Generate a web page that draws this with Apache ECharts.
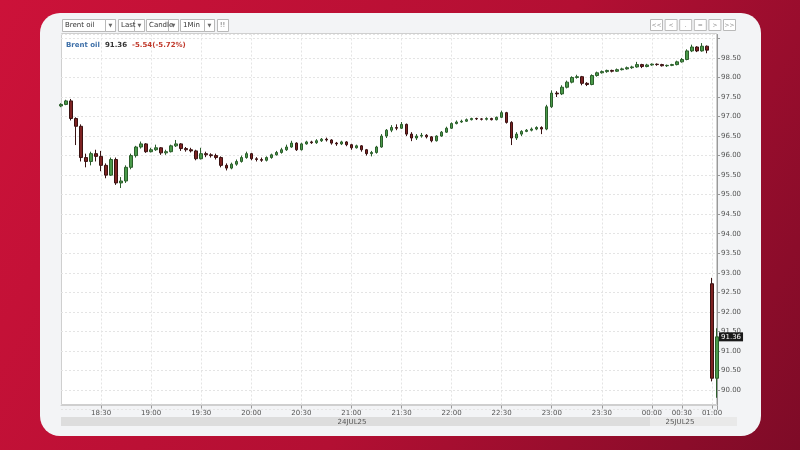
<!DOCTYPE html>
<html>
<head>
<meta charset="utf-8">
<script src="https://cdn.jsdelivr.net/npm/echarts@6.0.0/dist/echarts.min.js"></script>
<style>
  html, body { margin: 0; padding: 0; }
  #chart { width: 800px; height: 450px; }
</style>
</head>
<body>
<div id="chart"></div>
<script>
// quote header
var symbolName = 'Brent oil';
var lastPrice = 91.36;
var change = '-5.54';
var changePct = '-5.72%';

// time categories: 3 min candles until midnight, thinner after it
function hhmm(m) {
    var h = Math.floor(m / 60) % 24, mm = m % 60;
    return (h < 10 ? '0' : '') + h + ':' + (mm < 10 ? '0' : '') + mm;
}
var times = [];
for (var m = 18 * 60 + 6; m <= 24 * 60; m += 3) times.push(hhmm(m));
for (var m2 = 5; m2 <= 60; m2 += 5) times.push(hhmm(m2));
times.push('01:01');

var dateLabels = ['24JUL25', '25JUL25'];

// [open, close, low, high]
var candles = [
    [97.27, 97.31, 97.24, 97.34], [97.31, 97.40, 97.29, 97.43], [97.40, 96.95, 96.90, 97.45], [96.95, 96.75, 96.27, 96.98],
    [96.75, 95.95, 95.85, 96.80], [95.95, 95.85, 95.70, 96.05], [95.85, 96.05, 95.75, 96.10], [96.05, 95.98, 95.85, 96.15],
    [95.98, 95.75, 95.60, 96.12], [95.75, 95.50, 95.42, 95.80], [95.50, 95.90, 95.48, 95.95], [95.90, 95.30, 95.25, 95.95],
    [95.30, 95.35, 95.17, 95.45], [95.35, 95.70, 95.30, 95.75], [95.70, 96.00, 95.65, 96.05], [96.00, 96.22, 95.95, 96.25],
    [96.22, 96.30, 96.18, 96.36], [96.30, 96.10, 96.07, 96.32], [96.10, 96.15, 96.08, 96.20], [96.15, 96.20, 96.12, 96.28],
    [96.20, 96.07, 96.02, 96.22], [96.07, 96.10, 96.02, 96.15], [96.10, 96.25, 96.08, 96.28], [96.25, 96.30, 96.22, 96.40],
    [96.30, 96.18, 96.12, 96.32], [96.18, 96.15, 96.10, 96.22], [96.15, 96.12, 96.08, 96.20], [96.12, 95.92, 95.88, 96.15],
    [95.92, 96.05, 95.90, 96.20], [96.05, 96.02, 95.96, 96.10], [96.02, 96.00, 95.95, 96.06], [96.00, 95.95, 95.90, 96.05],
    [95.95, 95.75, 95.70, 95.98], [95.75, 95.68, 95.62, 95.80], [95.68, 95.78, 95.65, 95.82], [95.78, 95.85, 95.74, 95.90],
    [95.85, 95.95, 95.82, 96.00], [95.95, 96.05, 95.92, 96.10], [96.05, 95.92, 95.88, 96.07], [95.92, 95.90, 95.85, 95.96],
    [95.90, 95.88, 95.84, 95.95], [95.88, 95.95, 95.85, 95.98], [95.95, 96.02, 95.92, 96.05], [96.02, 96.08, 96.00, 96.12],
    [96.08, 96.15, 96.05, 96.20], [96.15, 96.22, 96.12, 96.28], [96.22, 96.32, 96.20, 96.38], [96.32, 96.15, 96.12, 96.34],
    [96.15, 96.30, 96.13, 96.33], [96.30, 96.35, 96.28, 96.38], [96.35, 96.33, 96.30, 96.38], [96.33, 96.38, 96.30, 96.42],
    [96.38, 96.42, 96.35, 96.45], [96.42, 96.40, 96.36, 96.46], [96.40, 96.32, 96.28, 96.42], [96.32, 96.30, 96.25, 96.35],
    [96.30, 96.35, 96.27, 96.38], [96.35, 96.28, 96.24, 96.37], [96.28, 96.20, 96.15, 96.30], [96.20, 96.25, 96.18, 96.28],
    [96.25, 96.15, 96.10, 96.27], [96.15, 96.05, 96.00, 96.17], [96.05, 96.08, 95.98, 96.12], [96.08, 96.22, 96.05, 96.25],
    [96.22, 96.50, 96.20, 96.55], [96.50, 96.65, 96.45, 96.68], [96.65, 96.72, 96.60, 96.78], [96.72, 96.70, 96.65, 96.80],
    [96.70, 96.80, 96.68, 96.86], [96.80, 96.55, 96.50, 96.82], [96.55, 96.45, 96.37, 96.60], [96.45, 96.50, 96.40, 96.55],
    [96.50, 96.52, 96.46, 96.58], [96.52, 96.48, 96.44, 96.55], [96.48, 96.38, 96.34, 96.50], [96.38, 96.50, 96.36, 96.52],
    [96.50, 96.60, 96.48, 96.63], [96.60, 96.70, 96.58, 96.74], [96.70, 96.82, 96.68, 96.85], [96.82, 96.86, 96.80, 96.90],
    [96.86, 96.88, 96.84, 96.92], [96.88, 96.92, 96.86, 96.95], [96.92, 96.95, 96.90, 96.97], [96.95, 96.94, 96.91, 96.97],
    [96.94, 96.93, 96.90, 96.96], [96.93, 96.95, 96.90, 96.98], [96.95, 96.92, 96.90, 96.97], [96.92, 96.98, 96.90, 97.00],
    [96.98, 97.10, 96.96, 97.15], [97.10, 96.85, 96.82, 97.12], [96.85, 96.45, 96.27, 96.88], [96.45, 96.55, 96.40, 96.60],
    [96.55, 96.62, 96.50, 96.65], [96.62, 96.65, 96.60, 96.68], [96.65, 96.68, 96.62, 96.72], [96.68, 96.72, 96.65, 96.75],
    [96.72, 96.68, 96.55, 96.75], [96.68, 97.25, 96.65, 97.30], [97.25, 97.60, 97.22, 97.67], [97.60, 97.58, 97.50, 97.65],
    [97.58, 97.75, 97.55, 97.80], [97.75, 97.88, 97.72, 97.92], [97.88, 98.00, 97.85, 98.03], [98.00, 98.02, 97.97, 98.07],
    [98.02, 97.85, 97.80, 98.04], [97.85, 97.82, 97.78, 97.88], [97.82, 98.05, 97.80, 98.08], [98.05, 98.12, 98.02, 98.15],
    [98.12, 98.15, 98.10, 98.18], [98.15, 98.18, 98.12, 98.20], [98.18, 98.16, 98.13, 98.20], [98.16, 98.20, 98.14, 98.23],
    [98.20, 98.22, 98.18, 98.25], [98.22, 98.25, 98.20, 98.28], [98.25, 98.27, 98.22, 98.30], [98.27, 98.33, 98.25, 98.40],
    [98.33, 98.28, 98.24, 98.35], [98.28, 98.32, 98.26, 98.35], [98.32, 98.34, 98.30, 98.36], [98.34, 98.33, 98.30, 98.36],
    [98.33, 98.30, 98.28, 98.35], [98.30, 98.31, 98.27, 98.33], [98.31, 98.33, 98.29, 98.35], [98.33, 98.40, 98.31, 98.43],
    [98.40, 98.46, 98.38, 98.50], [98.46, 98.68, 98.44, 98.72], [98.68, 98.78, 98.65, 98.84], [98.78, 98.68, 98.65, 98.80],
    [98.68, 98.80, 98.66, 98.88], [98.80, 98.70, 98.62, 98.82], [92.72, 90.30, 90.22, 92.87], [90.30, 91.36, 89.80, 91.58]
];

var fontUI = 'DejaVu Sans';
var halfHour = function (idx, val) { return /:(00|30)$/.test(val); };

// toolbar pieces
function box(x, y, w, h, fill) {
    return { type: 'rect', z: 20, shape: { x: x + 0.5, y: y + 0.5, width: w, height: h },
        style: { fill: fill || '#fff', stroke: '#b9b9b9', lineWidth: 1 } };
}
function txt(x, y, s, opt) {
    opt = opt || {};
    return { type: 'text', z: 21, x: x, y: y,
        style: { text: s, fill: opt.color || '#333', font: (opt.size || 7) + 'px ' + fontUI,
            align: opt.align || 'left', verticalAlign: 'middle' } };
}

var graphics = [
    { type: 'rect', z: -5, shape: { x: 40, y: 13, width: 721, height: 423, r: 20 }, style: { fill: '#f3f4f6' } },
    { type: 'rect', z: -4, shape: { x: 61.5, y: 33.5, width: 655, height: 371 }, style: { fill: '#fff', stroke: '#cfcfcf' } },
    // bottom date bar
    { type: 'rect', z: 5, shape: { x: 61, y: 417, width: 589, height: 9 }, style: { fill: '#dddddd' } },
    { type: 'rect', z: 5, shape: { x: 650, y: 417, width: 87, height: 9 }, style: { fill: '#e9e9e9' } },
    txt(352, 422, dateLabels[0], { size: 7, color: '#555', align: 'center' }),
    txt(680, 422, dateLabels[1], { size: 7, color: '#555', align: 'center' })
];
var drops = [[62, 53, 'Brent oil'], [118, 26, 'Last'], [146, 32, 'Candle'], [180, 34, '1Min']];
drops.forEach(function (d) {
    graphics.push(box(d[0], 19, d[1], 12));
    graphics.push(txt(d[0] + 3, 25.5, d[2]));
    graphics.push(box(d[0] + d[1] - 10, 19, 10, 12));
    graphics.push(txt(d[0] + d[1] - 4.5, 25.5, '\u25BC', { size: 5, color: '#666', align: 'center' }));
});
graphics.push(box(217, 19, 11, 12));
graphics.push(txt(222.5, 25.5, '!!', { size: 7, color: '#666', align: 'center' }));
['<<', '<', '.', '=', '>', '>>'].forEach(function (s, k) {
    var x = 650 + k * 14.6;
    graphics.push(box(x, 19, 12, 11));
    graphics.push(txt(x + 6.5, 25, s, { size: 6, color: '#888', align: 'center' }));
});

var myChart = echarts.init(document.getElementById('chart'));
var option = {
    animation: false,
    backgroundColor: new echarts.graphic.LinearGradient(0, 0, 1, 1, [
        { offset: 0, color: '#cc1239' },
        { offset: 0.55, color: '#b30f33' },
        { offset: 1, color: '#7e0b27' }
    ]),
    graphic: graphics,
    title: {
        left: 66,
        top: 36,
        padding: 0,
        text: '{a|' + symbolName + '} {b|' + lastPrice.toFixed(2) + '} {c|' + change + '(' + changePct + ')}',
        textStyle: {
            rich: {
                a: { fontSize: 7, fontWeight: 'bold', color: '#3d6fa8', fontFamily: fontUI },
                b: { fontSize: 7, fontWeight: 'bold', color: '#333', fontFamily: fontUI },
                c: { fontSize: 7, fontWeight: 'bold', color: '#c0392b', fontFamily: fontUI }
            }
        }
    },
    grid: { left: 61, right: 83, top: 34.5, bottom: 40.5 },
    xAxis: {
        type: 'category',
        data: times,
        boundaryGap: false,
        offset: -4,
        axisLine: { lineStyle: { color: '#cfcfcf' } },
        axisTick: { interval: halfHour, length: 3, lineStyle: { color: '#999' } },
        axisLabel: { interval: halfHour, fontSize: 7, color: '#555', margin: 4, fontFamily: fontUI },
        splitLine: { show: true, interval: halfHour, lineStyle: { color: '#e4e4e4', type: [2, 2] } }
    },
    yAxis: {
        type: 'value',
        position: 'right',
        min: 89.5,
        max: 99.1,
        interval: 0.5,
        axisLine: { show: true, lineStyle: { color: '#9a9a9a' } },
        axisTick: { show: true, length: 3, lineStyle: { color: '#999' } },
        axisLabel: {
            fontSize: 7, color: '#555', margin: 4, fontFamily: fontUI,
            showMinLabel: false, showMaxLabel: false,
            formatter: function (v) { return (v >= 90 && v <= 98.6) ? v.toFixed(2) : ''; }
        },
        splitLine: { lineStyle: { color: '#e4e4e4', type: [2, 2] } }
    },
    series: [{
        type: 'candlestick',
        data: candles,
        barWidth: 3,
        clip: false,
        itemStyle: {
            color: '#4a9a4a',
            color0: '#7e2222',
            borderColor: '#2b5e2b',
            borderColor0: '#3a1212',
            borderWidth: 1
        },
        markLine: {
            silent: true,
            symbol: 'none',
            z: 10,
            lineStyle: { color: 'rgba(0,0,0,0)', width: 1 },
            label: {
                show: true, position: 'end', distance: 2,
                formatter: lastPrice.toFixed(2),
                backgroundColor: '#1a1a1a', color: '#fff',
                fontSize: 7, fontFamily: fontUI, padding: [1, 2, 1, 2]
            },
            data: [{ yAxis: lastPrice }]
        }
    }]
};
myChart.setOption(option);
</script>
</body>
</html>
